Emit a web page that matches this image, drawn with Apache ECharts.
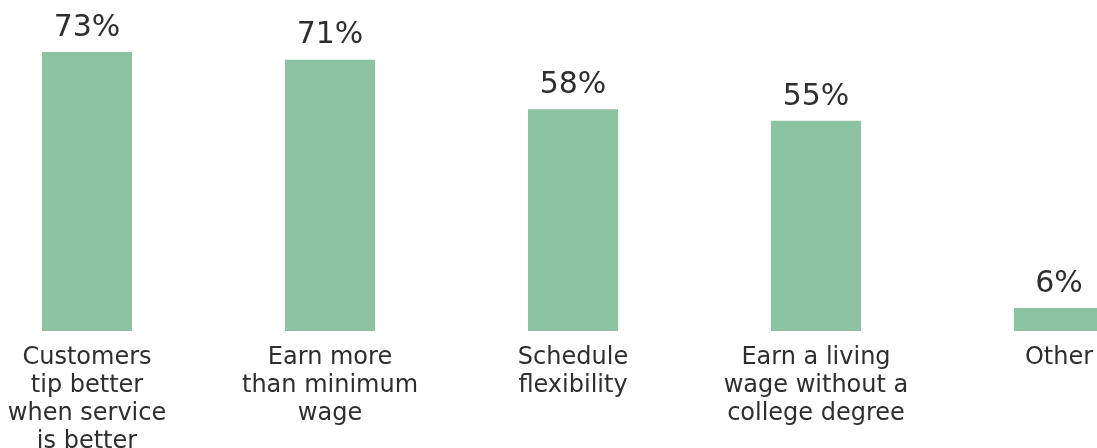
<!DOCTYPE html>
<html>
<head>
<meta charset="utf-8">
<script src="https://cdn.jsdelivr.net/npm/echarts@6/dist/echarts.min.js"></script>
<style>
  html, body { margin: 0; padding: 0; background: #ffffff; }
  #chart { width: 1097px; height: 448px; }
</style>
</head>
<body>
<div id="chart"></div>
<script>
// Reasons for preferring tipped work
const categories = [
  'Customers\ntip better\nwhen service\nis better',
  'Earn more\nthan minimum\nwage',
  'Schedule\nflexibility',
  'Earn a living\nwage without a\ncollege degree',
  'Other'
];
const shares = [73, 71, 58, 55, 6];

const chart = echarts.init(document.getElementById('chart'), null, { renderer: 'canvas' });

chart.setOption({
  backgroundColor: '#ffffff',
  animation: false,
  grid: {
    left: -34.5,
    right: -83.5,
    top: 52,
    bottom: 117,
    outerBoundsMode: 'none',
    containLabel: false
  },
  xAxis: {
    type: 'category',
    data: categories,
    axisLine: { show: false },
    axisTick: { show: false },
    axisLabel: {
      interval: 0,
      margin: 13,
      color: '#2e2e2e',
      fontFamily: 'DejaVu Sans',
      fontSize: 24,
      lineHeight: 28,
      align: 'center'
    }
  },
  yAxis: {
    type: 'value',
    min: 0,
    max: 73,
    show: false,
    splitLine: { show: false }
  },
  series: [{
    type: 'bar',
    data: shares,
    barWidth: 90,
    itemStyle: { color: '#8cc3a3' },
    label: {
      show: true,
      position: 'top',
      distance: 9,
      color: '#2e2e2e',
      fontFamily: 'DejaVu Sans',
      fontSize: 30,
      formatter: p => p.value + '%'
    }
  }]
});
</script>
</body>
</html>
